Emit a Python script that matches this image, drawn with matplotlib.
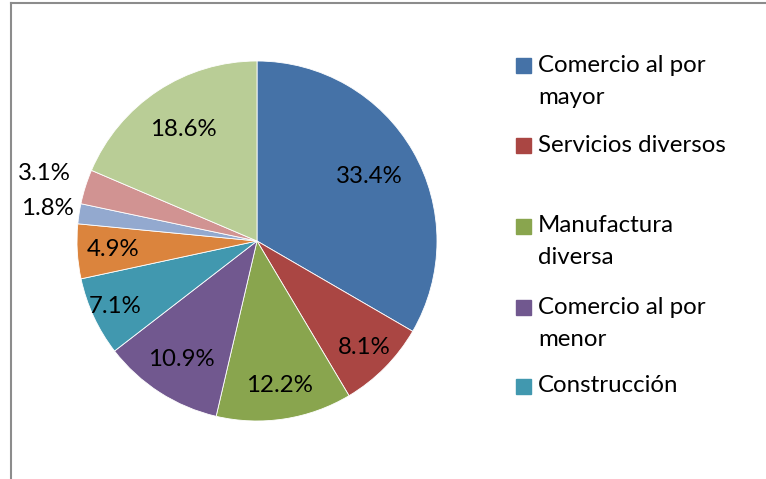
import matplotlib
matplotlib.use("Agg")
import matplotlib.pyplot as plt
from matplotlib.patches import Rectangle
import numpy as np

values = [33.4, 8.1, 12.2, 10.9, 7.1, 4.9, 1.8, 3.1, 18.6]
colors = ["#4572A7", "#AA4643", "#89A54E", "#71588F", "#4198AF",
          "#DB843D", "#93A9CF", "#D19392", "#B9CD96"]
legend_labels = ["Comercio al por\nmayor", "Servicios diversos",
                 "Manufactura\ndiversa", "Comercio al por\nmenor", "Construcción"]

# label radial factors (style)
label_r = [0.72, 0.84, 0.81, 0.78, 0.87, 0.80, 1.18, 1.24, 0.74]

plt.rcParams['font.family'] = ['Lato', 'DejaVu Sans']
FS = 17.3

W, H = 766, 479
fig = plt.figure(figsize=(W/100, H/100), dpi=100)
cx, cy, R = 257, 241, 180
ax = fig.add_axes([(cx-R)/W, (H-cy-R)/H, 2*R/W, 2*R/H])
wedges, _ = ax.pie(values, colors=colors, startangle=90, counterclock=False,
                   radius=1.0, wedgeprops=dict(edgecolor='white', linewidth=0.6))
ax.set_xlim(-1, 1)
ax.set_ylim(-1, 1)
ax.set_aspect('equal')
ax.axis('off')

for w, v, r in zip(wedges, values, label_r):
    ang = np.deg2rad((w.theta1 + w.theta2) / 2)
    ax.text(r*np.cos(ang), r*np.sin(ang), f"{v:.1f}%", ha='center', va='center',
            fontsize=FS, color='black')

# frame
fig.add_artist(plt.Line2D([11/W, 11/W], [0, 1-3/H], color='#8c8c8c', lw=1.5,
                          transform=fig.transFigure))
fig.add_artist(plt.Line2D([11/W, 1], [1-3/H, 1-3/H], color='#8c8c8c', lw=1.5,
                          transform=fig.transFigure))

# manual legend
centers = [65, 145, 226, 307, 386]
sq = 15
for lab, col, yc in zip(legend_labels, colors, centers):
    fig.add_artist(Rectangle((516/W, (H-yc-sq/2)/H), sq/W, sq/H, color=col,
                             transform=fig.transFigure))
    for i, ln in enumerate(lab.split('\n')):
        fig.text(538/W, (H-(yc + 32*i))/H, ln, ha='left', va='center', fontsize=FS)

fig.savefig("out.png", dpi=100)
